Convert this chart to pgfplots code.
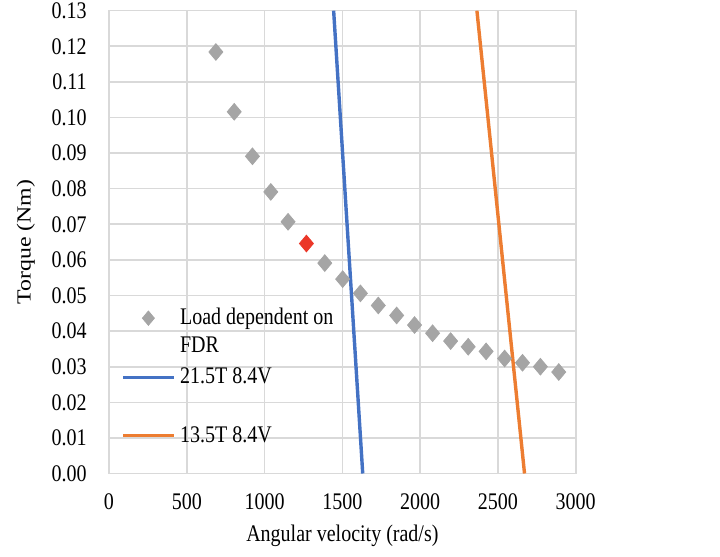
\documentclass[border=0pt]{standalone}
\usepackage{fontspec}
\setmainfont{Liberation Serif}
\usepackage{graphicx}
\usepackage{pgfplots}
\pgfplotsset{compat=1.18}

\definecolor{gridgray}{HTML}{D9D9D9}
\definecolor{loadgray}{HTML}{A5A5A5}
\definecolor{opred}{RGB}{235,55,40}
\definecolor{xlblue}{HTML}{4472C4}
\definecolor{xlorange}{HTML}{ED7D31}

% the reference is stretched vertically a little, text included
\newcommand\vs[1]{\scalebox{1}[1.19]{#1}}

% legend images: a 25.5pt line, or one diamond in the middle of it
\pgfplotsset{
  lineleg/.style={legend image code/.code={\draw[##1] (0pt,3.3pt) -- (25.5pt,3.3pt);}},
  markleg/.style={legend image code/.code={\path (0pt,0pt) (25.5pt,0pt);
    \draw[##1, mark size=2.12pt] plot coordinates {(12.5pt,3.4pt)};}},
}

\begin{document}
\begin{tikzpicture}[font=\fontsize{10}{12}\selectfont]
\begin{axis}[
  name=ax,
  scale only axis,
  width=233.35pt, height=231.4pt,
  xmin=0, xmax=3000, ymin=0, ymax=0.13,
  xtick={0,500,...,3000},
  ytick={0,0.01,...,0.135},
  major tick length=0pt,
  grid=major,
  grid style={gridgray, line width=0.8pt},
  axis line style={gridgray, line width=0.8pt},
  /pgf/number format/assume math mode=true,
  /pgf/number format/1000 sep={},
  yticklabel={\vs{\pgfmathprintnumber[fixed,fixed zerofill,precision=2]{\tick}}},
  xticklabel={\vs{\pgfmathprintnumber{\tick}}},
  yticklabel style={inner sep=0pt, xshift=-11pt},
  xticklabel style={inner sep=0pt, yshift=-9.75pt},
  xlabel={\vs{Angular velocity (rad/s)}},
  ylabel={\scalebox{1.19}[1]{Torque (Nm)}},
  every axis x label/.style={at={(axis description cs:0.5,0)}, anchor=base, yshift=-34pt},
  every axis y label/.style={at={(axis description cs:-0.178,0.5)}, rotate=90, anchor=center},
  legend cell align=left,
  legend style={draw=none, fill=none, inner sep=0pt, outer sep=0pt,
    row sep=0pt, column sep=2pt,
    at={(rel axis cs:0.0272,0.3598)}, anchor=north west,
    cells={anchor=base west}, nodes={anchor=base west, inner sep=0pt}},
]
% load curve (grey diamonds), operating point drawn in red
\addplot[only marks, mark=square*, mark size=2.47pt, color=loadgray,
  mark options={yscale=1.19, rotate=45}, markleg]
  coordinates {
    (687,0.1184) (805,0.1016) (922,0.0891) (1040,0.0791) (1151,0.0707)
    (1387,0.0591) (1502,0.0546) (1616,0.0506) (1731,0.0472) (1849,0.0444)
    (1964,0.0417) (2080,0.0394) (2196,0.0372) (2309,0.0356) (2424,0.0343)
    (2543,0.0323) (2658,0.0311) (2773,0.0300) (2891,0.0285)
  };
\addlegendentry{\rule[-3pt]{0pt}{12pt}\vs{Load dependent on}}
\addlegendimage{empty legend}
\addlegendentry{\rule[-3pt]{0pt}{15.5pt}\vs{FDR}}
\addplot[only marks, mark=square*, mark size=2.47pt, color=opred,
  mark options={yscale=1.19, rotate=45}, forget plot]
  coordinates {(1269,0.0646)};
% motor torque-speed lines
\addplot[xlblue, line width=1.7pt, lineleg]
  coordinates {(1444,0.13) (1631,0)};
\addlegendentry{\rule[-3pt]{0pt}{17pt}\vs{21.5T 8.4V}}
\addplot[xlorange, line width=1.7pt, lineleg]
  coordinates {(2365,0.13) (2671,0)};
\addlegendentry{\rule[-3pt]{0pt}{30.7pt}\vs{13.5T 8.4V}}
\end{axis}
\pgfresetboundingbox
\path ([shift={(-54.5pt,-41.25pt)}]ax.south west) rectangle ([shift={(72.15pt,5.35pt)}]ax.north east);
\end{tikzpicture}
\end{document}
